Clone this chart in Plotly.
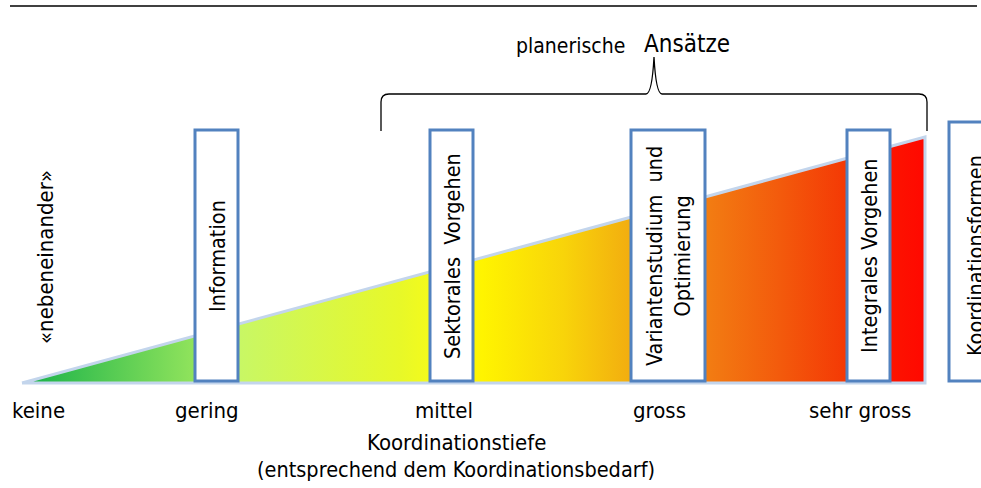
import plotly.graph_objects as go

# ---- data (pixel-like scale of "Koordinationstiefe") ----
levels = ["keine", "gering", "mittel", "gross", "sehr gross"]
level_x = [38, 207, 444, 659, 860]

approaches = ["Information", "Sektorales\u00a0 Vorgehen", "Variantenstudium\u00a0 und<br>Optimierung",
              "Integrales Vorgehen", "Koordinationsformen"]
approach_x0 = [195, 430, 631, 847, 949]
approach_x1 = [238, 473, 705, 890, 1000]
approach_top = [130, 130, 130, 130, 122]
approach_text_x = [217, 452, 668, 869, 975]

ground_y = 383
tri_x = [22, 925]
tri_top = 137

grad_stops = [0.0, 0.02, 0.19, 0.191, 0.24, 0.42, 0.45, 0.51, 0.60, 0.68, 0.76, 0.84, 0.91, 0.96, 1.0]
grad_colors = ["#1fb44a", "#22b64b", "#90e35c", "#b8f060", "#c8f765", "#e8f828", "#f3fb1c", "#fff400",
               "#f8d40a", "#f2aa10", "#f27c12", "#f35a0c", "#f43a05", "#fc1400", "#ff0800"]

FONT = "DejaVu Sans Condensed, Liberation Sans Narrow, sans-serif"

fig = go.Figure()

# gradient wedge
fig.add_trace(go.Scatter(
    x=[tri_x[0], tri_x[1], tri_x[1], tri_x[0]],
    y=[ground_y, ground_y, tri_top, ground_y],
    mode="lines", fill="toself",
    line=dict(color="#c3d5ec", width=3),
    fillgradient=dict(type="horizontal",
                      colorscale=[[s, c] for s, c in zip(grad_stops, grad_colors)]),
    hoverinfo="skip", showlegend=False))

shapes = []
# top rule
shapes.append(dict(type="line", x0=10, x1=977, y0=6, y1=6, xref="x", yref="y",
                   line=dict(color="black", width=1.5)))

# boxes
for x0, x1, top in zip(approach_x0, approach_x1, approach_top):
    shapes.append(dict(type="rect", x0=x0, x1=x1, y0=top, y1=ground_y - 2, xref="x", yref="y",
                       fillcolor="white", line=dict(color="#5282bf", width=3), layer="above"))

# brace
bx0, bx1, by, btip, bmid, bbot = 381, 927, 94, 57, 654, 131
path = (f"M {bx0},{bbot} L {bx0},{by+8} Q {bx0},{by} {bx0+8},{by} "
        f"L {bmid-8},{by} Q {bmid-2},{by} {bmid},{btip} Q {bmid+2},{by} {bmid+8},{by} "
        f"L {bx1-8},{by} Q {bx1},{by} {bx1},{by+8} L {bx1},{bbot}")
shapes.append(dict(type="path", path=path, xref="x", yref="y",
                   line=dict(color="black", width=1.3)))

annotations = []
for lab, x in zip(levels, level_x):
    annotations.append(dict(x=x, y=410, text=lab, showarrow=False, xref="x", yref="y",
                            font=dict(family=FONT, size=22, color="black")))

for txt, x in zip(approaches, approach_text_x):
    annotations.append(dict(x=x, y=256, text=txt, textangle=-90, showarrow=False,
                            xref="x", yref="y", align="center",
                            font=dict(family=FONT, size=21.5, color="black")))

annotations.append(dict(x=45, y=257, text="«nebeneinander»", textangle=-90, showarrow=False,
                        xref="x", yref="y", font=dict(family=FONT, size=22, color="black")))
annotations.append(dict(x=456, y=442, text="Koordinationstiefe", showarrow=False,
                        xref="x", yref="y", font=dict(family=FONT, size=22, color="black")))
annotations.append(dict(x=456, y=469, text="(entsprechend dem Koordinationsbedarf)", showarrow=False,
                        xref="x", yref="y", font=dict(family=FONT, size=21.5, color="black")))
annotations.append(dict(x=570, y=46, text="planerische", showarrow=False,
                        xref="x", yref="y", font=dict(family=FONT, size=21, color="black")))
annotations.append(dict(x=687, y=44, text="Ansätze", showarrow=False,
                        xref="x", yref="y", font=dict(family=FONT, size=24, color="black")))

fig.update_layout(
    width=981, height=488,
    margin=dict(l=0, r=0, t=0, b=0),
    paper_bgcolor="white", plot_bgcolor="white",
    xaxis=dict(range=[0, 981], visible=False, fixedrange=True),
    yaxis=dict(range=[488, 0], visible=False, fixedrange=True),
    shapes=shapes, annotations=annotations,
)

fig.write_html("out.html", config={"displayModeBar": False, "staticPlot": True},
               post_script="document.body.style.margin='0';")
